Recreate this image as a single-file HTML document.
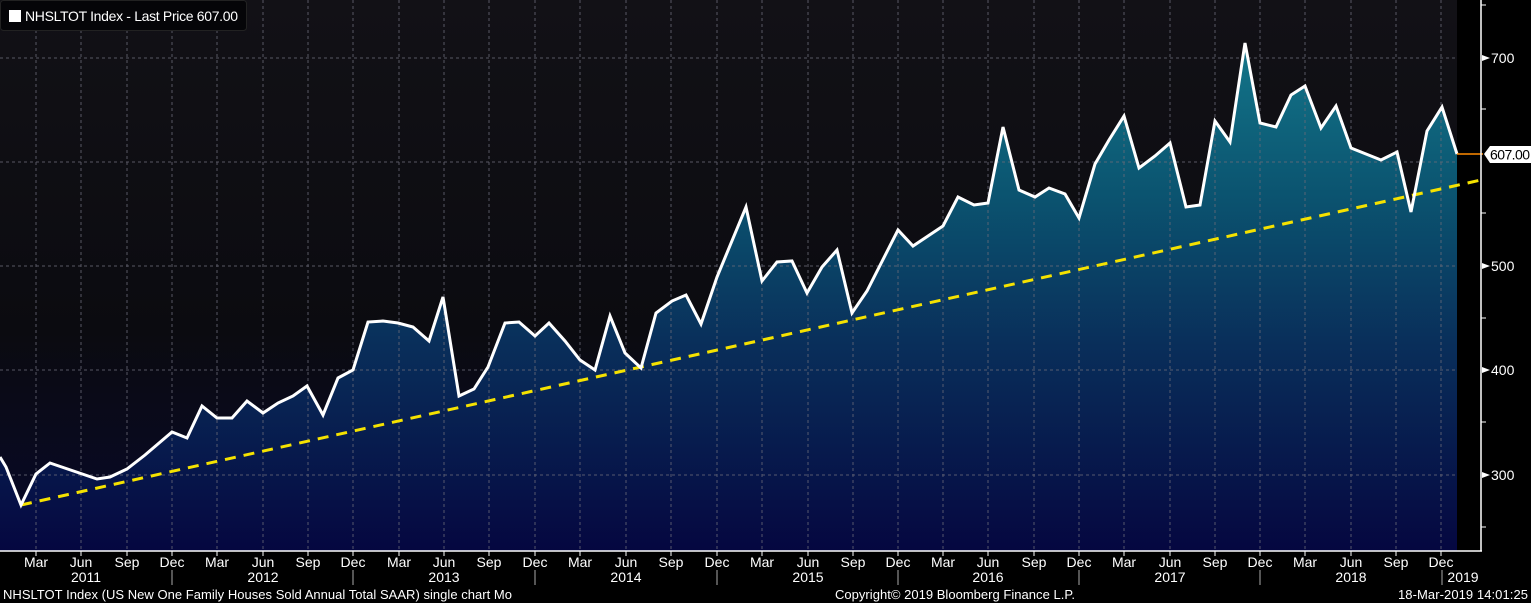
<!DOCTYPE html>
<html><head><meta charset="utf-8"><style>
html,body{margin:0;padding:0;background:#000;width:1531px;height:603px;overflow:hidden}
svg text{font-family:"Liberation Sans Narrow","Liberation Sans",sans-serif;fill:#fff}
</style></head><body>
<svg width="1531" height="603" viewBox="0 0 1531 603" xmlns="http://www.w3.org/2000/svg">
<defs>
<linearGradient id="bg" x1="0" y1="0" x2="0" y2="551" gradientUnits="userSpaceOnUse">
<stop offset="0" stop-color="#121116"/><stop offset="0.6" stop-color="#0b0b10"/><stop offset="1" stop-color="#07082a"/>
</linearGradient>
<linearGradient id="fill" x1="0" y1="40" x2="0" y2="551" gradientUnits="userSpaceOnUse">
<stop offset="0" stop-color="#13768a"/><stop offset="0.3" stop-color="#0b5470"/><stop offset="0.6" stop-color="#092e5a"/><stop offset="1" stop-color="#050740"/>
</linearGradient>
</defs>
<rect x="0" y="0" width="1481" height="551" fill="url(#bg)"/>
<rect x="1457" y="0" width="24" height="551" fill="#000"/>
<polygon fill="url(#fill)" points="0,551 0,457 6,467 21,505 36,474 50,463 97,479 110,477 127,469 145,455 172,432 187,438 202,406 217,418 232,418 247,401 263,413 278,403 293,396 307,386 323,415 338,378 353,370 368,322 383,321 398,323 413,327 429,341 443,297 459,396 474,389 488,367 505,323 519,322 535,336 549,323 565,341 580,360 595,370 610,316 625,353 641,368 656,313 672,301 686,295 701,324 717,277 746,207 762,281 777,262 792,261 807,293 822,267 837,250 852,313 867,291 898,230 913,246 928,236 943,226 958,197 974,205 988,203 1003,127 1019,190 1035,197 1049,188 1065,194 1079,218 1095,164 1109,140 1124,116 1139,168 1155,156 1170,143 1186,207 1200,205 1215,121 1230,142 1245,43 1260,123 1276,127 1291,95 1305,86 1321,128 1336,106 1351,148 1366,154 1381,160 1397,152 1411,212 1427,131 1442,107 1457,154 1457,551"/>
<g stroke="#6a6a78" stroke-width="1" stroke-dasharray="3,3" opacity="0.8">
<line x1="0" y1="58" x2="1457" y2="58"/><line x1="0" y1="162" x2="1457" y2="162"/><line x1="0" y1="266" x2="1457" y2="266"/><line x1="0" y1="370" x2="1457" y2="370"/><line x1="0" y1="475" x2="1457" y2="475"/>
<line x1="36" y1="0" x2="36" y2="551"/><line x1="81" y1="0" x2="81" y2="551"/><line x1="127" y1="0" x2="127" y2="551"/><line x1="172" y1="0" x2="172" y2="551"/><line x1="217" y1="0" x2="217" y2="551"/><line x1="263" y1="0" x2="263" y2="551"/><line x1="308" y1="0" x2="308" y2="551"/><line x1="353" y1="0" x2="353" y2="551"/><line x1="399" y1="0" x2="399" y2="551"/><line x1="444" y1="0" x2="444" y2="551"/><line x1="489" y1="0" x2="489" y2="551"/><line x1="535" y1="0" x2="535" y2="551"/><line x1="580" y1="0" x2="580" y2="551"/><line x1="626" y1="0" x2="626" y2="551"/><line x1="671" y1="0" x2="671" y2="551"/><line x1="717" y1="0" x2="717" y2="551"/><line x1="762" y1="0" x2="762" y2="551"/><line x1="808" y1="0" x2="808" y2="551"/><line x1="853" y1="0" x2="853" y2="551"/><line x1="898" y1="0" x2="898" y2="551"/><line x1="943" y1="0" x2="943" y2="551"/><line x1="988" y1="0" x2="988" y2="551"/><line x1="1034" y1="0" x2="1034" y2="551"/><line x1="1079" y1="0" x2="1079" y2="551"/><line x1="1124" y1="0" x2="1124" y2="551"/><line x1="1170" y1="0" x2="1170" y2="551"/><line x1="1215" y1="0" x2="1215" y2="551"/><line x1="1260" y1="0" x2="1260" y2="551"/><line x1="1305" y1="0" x2="1305" y2="551"/><line x1="1351" y1="0" x2="1351" y2="551"/><line x1="1396" y1="0" x2="1396" y2="551"/><line x1="1441" y1="0" x2="1441" y2="551"/>
</g>
<line x1="21" y1="505" x2="1481" y2="180" stroke="#f5e200" stroke-width="3" stroke-dasharray="11,8"/>
<polyline fill="none" stroke="#fff" stroke-width="3" points="0,457 6,467 21,505 36,474 50,463 97,479 110,477 127,469 145,455 172,432 187,438 202,406 217,418 232,418 247,401 263,413 278,403 293,396 307,386 323,415 338,378 353,370 368,322 383,321 398,323 413,327 429,341 443,297 459,396 474,389 488,367 505,323 519,322 535,336 549,323 565,341 580,360 595,370 610,316 625,353 641,368 656,313 672,301 686,295 701,324 717,277 746,207 762,281 777,262 792,261 807,293 822,267 837,250 852,313 867,291 898,230 913,246 928,236 943,226 958,197 974,205 988,203 1003,127 1019,190 1035,197 1049,188 1065,194 1079,218 1095,164 1109,140 1124,116 1139,168 1155,156 1170,143 1186,207 1200,205 1215,121 1230,142 1245,43 1260,123 1276,127 1291,95 1305,86 1321,128 1336,106 1351,148 1366,154 1381,160 1397,152 1411,212 1427,131 1442,107 1457,154"/>
<line x1="1457" y1="154" x2="1483" y2="154" stroke="#ff8a00" stroke-width="1.5"/>
<line x1="0" y1="551" x2="1482" y2="551" stroke="#fff" stroke-width="1.5"/>
<line x1="1481" y1="0" x2="1481" y2="551" stroke="#fff" stroke-width="1.5"/>
<g stroke="#fff" stroke-width="1">
<line x1="1481" y1="109" x2="1486" y2="109"/><line x1="1481" y1="213" x2="1486" y2="213"/><line x1="1481" y1="318" x2="1486" y2="318"/><line x1="1481" y1="422" x2="1486" y2="422"/><line x1="1481" y1="527" x2="1486" y2="527"/><line x1="1481" y1="5" x2="1486" y2="5"/>
</g>
<g fill="#fff">
<polygon points="1482,55 1490,58 1482,61"/><polygon points="1482,263 1490,266 1482,269"/><polygon points="1482,367 1490,370 1482,373"/><polygon points="1482,472 1490,475 1482,478"/>
</g>
<g font-size="14">
<text x="1491" y="63">700</text><text x="1491" y="271">500</text><text x="1491" y="375">400</text><text x="1491" y="480">300</text>
</g>
<polygon points="1484,154 1490,146 1531,146 1531,163 1490,163" fill="#fff"/>
<text x="1490" y="159.5" font-size="14" style="fill:#000" textLength="40">607.00</text>
<g font-size="14" text-anchor="middle">
<text x="36" y="567">Mar</text><text x="81" y="567">Jun</text><text x="127" y="567">Sep</text><text x="172" y="567">Dec</text>
<text x="217" y="567">Mar</text><text x="263" y="567">Jun</text><text x="308" y="567">Sep</text><text x="353" y="567">Dec</text>
<text x="399" y="567">Mar</text><text x="444" y="567">Jun</text><text x="489" y="567">Sep</text><text x="535" y="567">Dec</text>
<text x="580" y="567">Mar</text><text x="626" y="567">Jun</text><text x="671" y="567">Sep</text><text x="717" y="567">Dec</text>
<text x="762" y="567">Mar</text><text x="808" y="567">Jun</text><text x="853" y="567">Sep</text><text x="898" y="567">Dec</text>
<text x="943" y="567">Mar</text><text x="988" y="567">Jun</text><text x="1034" y="567">Sep</text><text x="1079" y="567">Dec</text>
<text x="1124" y="567">Mar</text><text x="1170" y="567">Jun</text><text x="1215" y="567">Sep</text><text x="1260" y="567">Dec</text>
<text x="1305" y="567">Mar</text><text x="1351" y="567">Jun</text><text x="1396" y="567">Sep</text><text x="1441" y="567">Dec</text>
<text x="86" y="582">2011</text><text x="263" y="582">2012</text><text x="444" y="582">2013</text><text x="626" y="582">2014</text><text x="808" y="582">2015</text><text x="988" y="582">2016</text><text x="1170" y="582">2017</text><text x="1351" y="582">2018</text><text x="1463" y="582">2019</text>
</g>
<g stroke="#aaa" stroke-width="1">
<line x1="172" y1="570" x2="172" y2="585"/><line x1="353" y1="570" x2="353" y2="585"/><line x1="535" y1="570" x2="535" y2="585"/><line x1="717" y1="570" x2="717" y2="585"/><line x1="898" y1="570" x2="898" y2="585"/><line x1="1079" y1="570" x2="1079" y2="585"/><line x1="1260" y1="570" x2="1260" y2="585"/><line x1="1442" y1="570" x2="1442" y2="585"/>
</g>
<g stroke="#fff" stroke-width="1">
<line x1="36" y1="551" x2="36" y2="556"/><line x1="81" y1="551" x2="81" y2="556"/><line x1="127" y1="551" x2="127" y2="556"/><line x1="172" y1="551" x2="172" y2="556"/><line x1="217" y1="551" x2="217" y2="556"/><line x1="263" y1="551" x2="263" y2="556"/><line x1="308" y1="551" x2="308" y2="556"/><line x1="353" y1="551" x2="353" y2="556"/><line x1="399" y1="551" x2="399" y2="556"/><line x1="444" y1="551" x2="444" y2="556"/><line x1="489" y1="551" x2="489" y2="556"/><line x1="535" y1="551" x2="535" y2="556"/><line x1="580" y1="551" x2="580" y2="556"/><line x1="626" y1="551" x2="626" y2="556"/><line x1="671" y1="551" x2="671" y2="556"/><line x1="717" y1="551" x2="717" y2="556"/><line x1="762" y1="551" x2="762" y2="556"/><line x1="808" y1="551" x2="808" y2="556"/><line x1="853" y1="551" x2="853" y2="556"/><line x1="898" y1="551" x2="898" y2="556"/><line x1="943" y1="551" x2="943" y2="556"/><line x1="988" y1="551" x2="988" y2="556"/><line x1="1034" y1="551" x2="1034" y2="556"/><line x1="1079" y1="551" x2="1079" y2="556"/><line x1="1124" y1="551" x2="1124" y2="556"/><line x1="1170" y1="551" x2="1170" y2="556"/><line x1="1215" y1="551" x2="1215" y2="556"/><line x1="1260" y1="551" x2="1260" y2="556"/><line x1="1305" y1="551" x2="1305" y2="556"/><line x1="1351" y1="551" x2="1351" y2="556"/><line x1="1396" y1="551" x2="1396" y2="556"/><line x1="1441" y1="551" x2="1441" y2="556"/>
</g>
<rect x="0.5" y="0.5" width="246" height="30" rx="3" fill="#050508" stroke="#222" stroke-width="1"/>
<rect x="9" y="10" width="12" height="12" fill="#fff"/>
<text x="25" y="21" font-size="14" textLength="213">NHSLTOT Index - Last Price 607.00</text>
<g font-size="13">
<text x="3" y="599" textLength="509">NHSLTOT Index (US New One Family Houses Sold Annual Total SAAR) single chart  Mo</text>
<text x="835" y="599" textLength="240">Copyright© 2019 Bloomberg Finance L.P.</text>
<text x="1398" y="599" textLength="130">18-Mar-2019 14:01:25</text>
</g>
</svg>
</body></html>
